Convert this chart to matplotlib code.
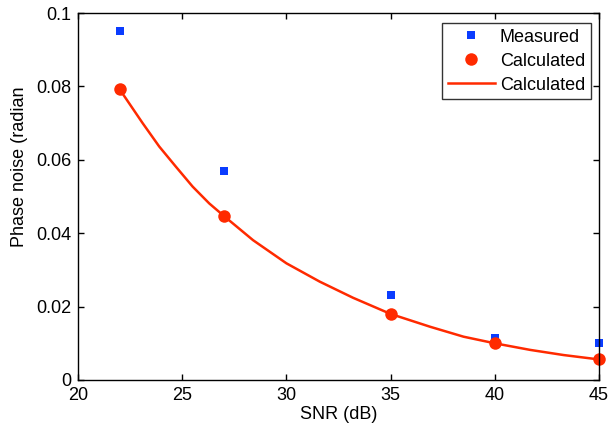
import matplotlib
matplotlib.use('Agg')
import matplotlib.pyplot as plt

# SNR values (dB)
snr = [22, 27, 35, 40, 45]
measured = [0.0952, 0.0569, 0.0231, 0.0115, 0.0100]
calculated = [0.0792, 0.0447, 0.0180, 0.0100, 0.0056]

# fitted curve
curve_snr = [22, 23.1, 23.9, 24.7, 25.5, 26.3, 27, 28.4, 30, 31.6, 33.2,
             35, 36.9, 38.5, 40, 41.7, 43.3, 45]
curve_val = [0.0792, 0.0700, 0.0636, 0.0581, 0.0527, 0.0481, 0.0447, 0.0381,
             0.0318, 0.0268, 0.0224, 0.0180, 0.0145, 0.0118, 0.0100, 0.0082,
             0.0068, 0.0056]

x_ticks = [20, 25, 30, 35, 40, 45]
y_ticks = [0, 0.02, 0.04, 0.06, 0.08, 0.1]
y_tick_labels = ['0', '0.02', '0.04', '0.06', '0.08', '0.1']

plt.rcParams['font.family'] = ['Liberation Sans', 'DejaVu Sans']
fs = 13

fig = plt.figure(figsize=(6.1, 4.26), dpi=100)
ax = fig.add_axes([78 / 610, 1 - 380 / 426, (599 - 78) / 610, (380 - 13) / 426])

ax.plot(snr, measured, linestyle='none', marker='s', markersize=6,
        color='#0a3cff', markeredgewidth=0, label='Measured', clip_on=False)
ax.plot(snr, calculated, linestyle='none', marker='o', markersize=9,
        color='#ff2a00', markeredgewidth=0, label='Calculated', clip_on=False)
ax.plot(curve_snr, curve_val, color='#ff2a00', linewidth=1.8, label='Calculated')

ax.set_xlim(20, 45)
ax.set_ylim(0, 0.1)
ax.set_xticks(x_ticks)
ax.set_yticks(y_ticks)
ax.set_yticklabels(y_tick_labels)
ax.tick_params(direction='in', length=4, width=1, labelsize=fs, pad=5,
               top=True, right=True, colors='black')
for s in ax.spines.values():
    s.set_linewidth(1)

ax.set_xlabel('SNR (dB)', fontsize=fs, labelpad=1.5)
fig.text(20 / 610, 1 - 167 / 426, 'Phase noise (radian', rotation=90,
         ha='center', va='center', fontsize=fs)

leg = ax.legend(loc='upper right', bbox_to_anchor=(591 / 610, 1 - 23 / 426),
                bbox_transform=fig.transFigure, borderaxespad=0, fontsize=fs,
                frameon=True, fancybox=False, handlelength=2.6,
                handletextpad=0.3, labelspacing=0.38, borderpad=0.32)
leg.get_frame().set_edgecolor('black')
leg.get_frame().set_linewidth(1)

fig.savefig('out.png', dpi=100)
